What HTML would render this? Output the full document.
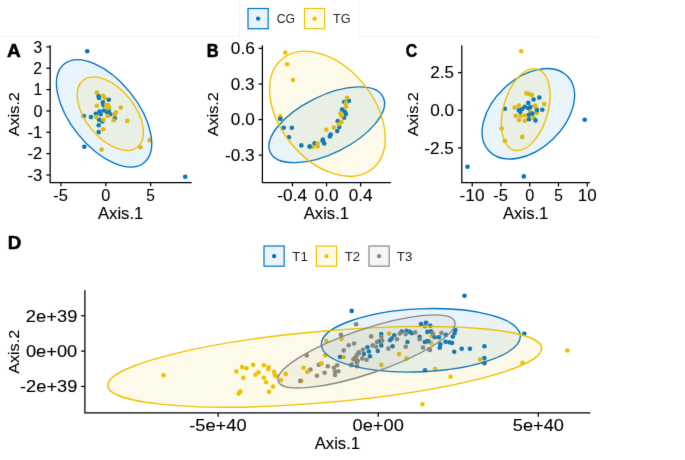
<!DOCTYPE html>
<html><head><meta charset="utf-8"><style>
html,body{margin:0;padding:0;background:#fff;}
svg{display:block;} #w{width:685px;height:460px;overflow:hidden;}
text{font-family:"Liberation Sans",sans-serif;stroke:#000;stroke-width:0.1px;}
</style></head><body>
<div id="w"><svg width="685" height="460" viewBox="0 0 685 460">
<defs><filter id="bl" x="0" y="0" width="685" height="460" filterUnits="userSpaceOnUse" color-interpolation-filters="sRGB"><feConvolveMatrix order="3" kernelMatrix="0.0072 0.085 0.0072 0.085 1 0.085 0.0072 0.085 0.0072" divisor="1.3688" edgeMode="duplicate" preserveAlpha="true"/></filter></defs>
<g filter="url(#bl)">
<rect width="685" height="460" fill="#fff"/>
<path d="M0 36.5H239.6M358.5 36.5H599M239.6 0V36.5M358.5 0V36.5" stroke="#f3f3f3" stroke-width="1" fill="none"/>
<text x="7.03" y="56.60" font-size="17.70" textLength="13.74" lengthAdjust="spacingAndGlyphs" font-weight="bold" fill="#000" style="stroke-width:0.5px">A</text>
<text x="206.83" y="56.70" font-size="17.70" textLength="11.87" lengthAdjust="spacingAndGlyphs" font-weight="bold" fill="#000" style="stroke-width:0.5px">B</text>
<text x="405.68" y="56.70" font-size="17.75" textLength="11.44" lengthAdjust="spacingAndGlyphs" font-weight="bold" fill="#000" style="stroke-width:0.5px">C</text>
<text x="7.72" y="249.30" font-size="17.70" textLength="13.49" lengthAdjust="spacingAndGlyphs" font-weight="bold" fill="#000" style="stroke-width:0.5px">D</text>
<circle cx="87.2" cy="51.3" r="2.3" fill="#0073C2"/><circle cx="185.2" cy="176.7" r="2.3" fill="#0073C2"/><circle cx="84.3" cy="146.7" r="2.3" fill="#0073C2"/><circle cx="98.5" cy="95.9" r="2.3" fill="#0073C2"/><circle cx="99" cy="98" r="2.3" fill="#0073C2"/><circle cx="108.8" cy="99.7" r="2.3" fill="#0073C2"/><circle cx="102.8" cy="102.4" r="2.3" fill="#0073C2"/><circle cx="103.4" cy="105.1" r="2.3" fill="#0073C2"/><circle cx="103.9" cy="110.5" r="2.3" fill="#0073C2"/><circle cx="108.8" cy="110.5" r="2.3" fill="#0073C2"/><circle cx="107.2" cy="112.7" r="2.3" fill="#0073C2"/><circle cx="110.4" cy="114.3" r="2.3" fill="#0073C2"/><circle cx="99.6" cy="111.6" r="2.3" fill="#0073C2"/><circle cx="95.8" cy="113.8" r="2.3" fill="#0073C2"/><circle cx="100.7" cy="114.3" r="2.3" fill="#0073C2"/><circle cx="90.9" cy="117.1" r="2.3" fill="#0073C2"/><circle cx="83.8" cy="116" r="2.3" fill="#0073C2"/><circle cx="99" cy="119.8" r="2.3" fill="#0073C2"/><circle cx="102.3" cy="121.4" r="2.3" fill="#0073C2"/><circle cx="114.8" cy="118.2" r="2.3" fill="#0073C2"/><circle cx="98.7" cy="125.2" r="2.3" fill="#0073C2"/><circle cx="98.7" cy="132.1" r="2.3" fill="#0073C2"/>
<circle cx="96.8" cy="92.6" r="2.3" fill="#EFC000"/><circle cx="103.4" cy="95.9" r="2.3" fill="#EFC000"/><circle cx="105" cy="98.6" r="2.3" fill="#EFC000"/><circle cx="96.8" cy="105.7" r="2.3" fill="#EFC000"/><circle cx="106.1" cy="105.1" r="2.3" fill="#EFC000"/><circle cx="109.3" cy="107.8" r="2.3" fill="#EFC000"/><circle cx="120.8" cy="107.6" r="2.3" fill="#EFC000"/><circle cx="115.9" cy="112.2" r="2.3" fill="#EFC000"/><circle cx="114.8" cy="114.3" r="2.3" fill="#EFC000"/><circle cx="107.7" cy="116" r="2.3" fill="#EFC000"/><circle cx="96.3" cy="117.1" r="2.3" fill="#EFC000"/><circle cx="103.4" cy="119.8" r="2.3" fill="#EFC000"/><circle cx="113.7" cy="120.3" r="2.3" fill="#EFC000"/><circle cx="127.3" cy="120.9" r="2.3" fill="#EFC000"/><circle cx="103.3" cy="129.2" r="2.3" fill="#EFC000"/><circle cx="149.6" cy="140.3" r="2.3" fill="#EFC000"/><circle cx="140.4" cy="147.2" r="2.3" fill="#EFC000"/><circle cx="101.6" cy="149.6" r="2.3" fill="#EFC000"/><circle cx="108.3" cy="105.3" r="2.3" fill="#EFC000"/><circle cx="107.3" cy="107.6" r="2.3" fill="#EFC000"/>
<ellipse cx="104.10" cy="113.40" rx="63.45" ry="33.37" transform="rotate(51.02 104.10 113.40)" fill="#0073C2" fill-opacity="0.085" stroke="#0073C2" stroke-width="1.35"/>
<ellipse cx="110.30" cy="113.70" rx="43.06" ry="24.39" transform="rotate(50.76 110.30 113.70)" fill="#EFC000" fill-opacity="0.085" stroke="#EFC000" stroke-width="1.35"/>
<path d="M50.15 45.2 V182.55 H191.7" fill="none" stroke="#000" stroke-width="1.25" stroke-linecap="butt"/>
<path d="M46.35 46.9H50.15" stroke="#000" stroke-width="1.25"/>
<text x="33.60" y="52.70" font-size="15.94" textLength="8.70" lengthAdjust="spacingAndGlyphs" fill="#000">3</text>
<path d="M46.35 68.25H50.15" stroke="#000" stroke-width="1.25"/>
<text x="33.36" y="74.05" font-size="15.94" textLength="8.73" lengthAdjust="spacingAndGlyphs" fill="#000">2</text>
<path d="M46.35 89.6H50.15" stroke="#000" stroke-width="1.25"/>
<text x="33.53" y="95.40" font-size="15.89" textLength="8.65" lengthAdjust="spacingAndGlyphs" fill="#000">1</text>
<path d="M46.35 110.95H50.15" stroke="#000" stroke-width="1.25"/>
<text x="33.40" y="116.75" font-size="15.94" textLength="9.06" lengthAdjust="spacingAndGlyphs" fill="#000">0</text>
<path d="M46.35 132.3H50.15" stroke="#000" stroke-width="1.25"/>
<text x="27.46" y="138.10" font-size="15.89" textLength="14.77" lengthAdjust="spacingAndGlyphs" fill="#000">-1</text>
<path d="M46.35 153.65H50.15" stroke="#000" stroke-width="1.25"/>
<text x="27.47" y="159.45" font-size="15.94" textLength="14.67" lengthAdjust="spacingAndGlyphs" fill="#000">-2</text>
<path d="M46.35 175.0H50.15" stroke="#000" stroke-width="1.25"/>
<text x="27.46" y="180.80" font-size="15.94" textLength="14.89" lengthAdjust="spacingAndGlyphs" fill="#000">-3</text>
<path d="M60.95 182.55V186.35000000000002" stroke="#000" stroke-width="1.25"/>
<text x="53.27" y="201.05" font-size="15.89" textLength="14.73" lengthAdjust="spacingAndGlyphs" fill="#000">-5</text>
<path d="M105.8 182.55V186.35000000000002" stroke="#000" stroke-width="1.25"/>
<text x="101.27" y="201.05" font-size="15.94" textLength="9.06" lengthAdjust="spacingAndGlyphs" fill="#000">0</text>
<path d="M150.65 182.55V186.35000000000002" stroke="#000" stroke-width="1.25"/>
<text x="146.31" y="201.05" font-size="15.89" textLength="8.55" lengthAdjust="spacingAndGlyphs" fill="#000">5</text>
<text x="97.99" y="218.75" font-size="15.94" textLength="45.36" lengthAdjust="spacingAndGlyphs" fill="#000">Axis.1</text>
<text x="-136.20" y="0" font-size="15.52" textLength="44.07" lengthAdjust="spacingAndGlyphs" fill="#000" transform="translate(18.60 0) rotate(-90)">Axis.2</text>
<circle cx="280.3" cy="118.7" r="2.3" fill="#0073C2"/><circle cx="283.7" cy="127.8" r="2.3" fill="#0073C2"/><circle cx="291.9" cy="127.8" r="2.3" fill="#0073C2"/><circle cx="288.9" cy="137.3" r="2.3" fill="#0073C2"/><circle cx="301.3" cy="145.4" r="2.3" fill="#0073C2"/><circle cx="309.7" cy="146.5" r="2.3" fill="#0073C2"/><circle cx="314.6" cy="143.2" r="2.3" fill="#0073C2"/><circle cx="322.5" cy="140.6" r="2.3" fill="#0073C2"/><circle cx="324.2" cy="143.4" r="2.3" fill="#0073C2"/><circle cx="348.9" cy="100.9" r="2.3" fill="#0073C2"/><circle cx="344.2" cy="102" r="2.3" fill="#0073C2"/><circle cx="342.1" cy="109.6" r="2.3" fill="#0073C2"/><circle cx="344.8" cy="111.7" r="2.3" fill="#0073C2"/><circle cx="345.9" cy="113.9" r="2.3" fill="#0073C2"/><circle cx="344.2" cy="117.7" r="2.3" fill="#0073C2"/><circle cx="337.7" cy="121" r="2.3" fill="#0073C2"/><circle cx="339.3" cy="127" r="2.3" fill="#0073C2"/><circle cx="337.2" cy="131.1" r="2.3" fill="#0073C2"/><circle cx="330.7" cy="134.6" r="2.3" fill="#0073C2"/><circle cx="323" cy="139.5" r="2.3" fill="#0073C2"/><circle cx="329.8" cy="136.5" r="2.3" fill="#0073C2"/>
<circle cx="285.3" cy="52.6" r="2.3" fill="#EFC000"/><circle cx="287.1" cy="64.3" r="2.3" fill="#EFC000"/><circle cx="292.9" cy="80" r="2.3" fill="#EFC000"/><circle cx="280.4" cy="116.4" r="2.3" fill="#EFC000"/><circle cx="312.7" cy="147" r="2.3" fill="#EFC000"/><circle cx="317.6" cy="143.5" r="2.3" fill="#EFC000"/><circle cx="317.6" cy="146.5" r="2.3" fill="#EFC000"/><circle cx="326.3" cy="129.8" r="2.3" fill="#EFC000"/><circle cx="347" cy="97.8" r="2.3" fill="#EFC000"/><circle cx="345.9" cy="103" r="2.3" fill="#EFC000"/><circle cx="345.9" cy="106.8" r="2.3" fill="#EFC000"/><circle cx="340.4" cy="113.4" r="2.3" fill="#EFC000"/><circle cx="341.5" cy="116.1" r="2.3" fill="#EFC000"/><circle cx="341.5" cy="122" r="2.3" fill="#EFC000"/><circle cx="338.8" cy="124.2" r="2.3" fill="#EFC000"/><circle cx="333.9" cy="127.5" r="2.3" fill="#EFC000"/>
<circle cx="280.3" cy="118.7" r="2.3" fill="#0073C2"/><circle cx="309.7" cy="146.5" r="2.3" fill="#0073C2"/>
<ellipse cx="326.75" cy="124.80" rx="62.83" ry="28.69" transform="rotate(153.71 326.75 124.80)" fill="#0073C2" fill-opacity="0.085" stroke="#0073C2" stroke-width="1.35"/>
<ellipse cx="327.40" cy="113.80" rx="71.11" ry="46.80" transform="rotate(50.69 327.40 113.80)" fill="#EFC000" fill-opacity="0.085" stroke="#EFC000" stroke-width="1.35"/>
<path d="M262.4 45.2 V182.6 H390.9" fill="none" stroke="#000" stroke-width="1.25" stroke-linecap="butt"/>
<path d="M258.59999999999997 48.39H262.4" stroke="#000" stroke-width="1.25"/>
<text x="230.87" y="54.19" font-size="15.94" textLength="24.01" lengthAdjust="spacingAndGlyphs" fill="#000">0.6</text>
<path d="M258.59999999999997 83.97H262.4" stroke="#000" stroke-width="1.25"/>
<text x="230.88" y="89.77" font-size="15.94" textLength="23.73" lengthAdjust="spacingAndGlyphs" fill="#000">0.3</text>
<path d="M258.59999999999997 119.55H262.4" stroke="#000" stroke-width="1.25"/>
<text x="230.88" y="125.35" font-size="15.94" textLength="23.87" lengthAdjust="spacingAndGlyphs" fill="#000">0.0</text>
<path d="M258.59999999999997 155.13H262.4" stroke="#000" stroke-width="1.25"/>
<text x="224.94" y="160.93" font-size="15.94" textLength="29.68" lengthAdjust="spacingAndGlyphs" fill="#000">-0.3</text>
<path d="M292.43 182.6V186.4" stroke="#000" stroke-width="1.25"/>
<text x="277.34" y="201.10" font-size="15.94" textLength="29.80" lengthAdjust="spacingAndGlyphs" fill="#000">-0.4</text>
<path d="M326.55 182.6V186.4" stroke="#000" stroke-width="1.25"/>
<text x="314.61" y="201.10" font-size="15.94" textLength="23.87" lengthAdjust="spacingAndGlyphs" fill="#000">0.0</text>
<path d="M360.67 182.6V186.4" stroke="#000" stroke-width="1.25"/>
<text x="348.73" y="201.10" font-size="15.94" textLength="23.86" lengthAdjust="spacingAndGlyphs" fill="#000">0.4</text>
<text x="303.72" y="218.80" font-size="15.94" textLength="45.36" lengthAdjust="spacingAndGlyphs" fill="#000">Axis.1</text>
<text x="-136.23" y="0" font-size="15.52" textLength="44.07" lengthAdjust="spacingAndGlyphs" fill="#000" transform="translate(218.10 0) rotate(-90)">Axis.2</text>
<circle cx="521.2" cy="51.3" r="2.3" fill="#EFC000"/><circle cx="526.4" cy="93.4" r="2.3" fill="#EFC000"/><circle cx="528.4" cy="93.8" r="2.3" fill="#EFC000"/><circle cx="531.7" cy="94.9" r="2.3" fill="#EFC000"/><circle cx="544.2" cy="104.1" r="2.3" fill="#EFC000"/><circle cx="514.6" cy="107.5" r="2.3" fill="#EFC000"/><circle cx="518.8" cy="105.6" r="2.3" fill="#EFC000"/><circle cx="535.1" cy="105.6" r="2.3" fill="#EFC000"/><circle cx="536.3" cy="108.5" r="2.3" fill="#EFC000"/><circle cx="537" cy="112.8" r="2.3" fill="#EFC000"/><circle cx="515.7" cy="115.9" r="2.3" fill="#EFC000"/><circle cx="520.7" cy="115.9" r="2.3" fill="#EFC000"/><circle cx="525.2" cy="115.5" r="2.3" fill="#EFC000"/><circle cx="519.1" cy="120.1" r="2.3" fill="#EFC000"/><circle cx="524.8" cy="120.8" r="2.3" fill="#EFC000"/><circle cx="533.6" cy="117.8" r="2.3" fill="#EFC000"/><circle cx="530.2" cy="112.1" r="2.3" fill="#EFC000"/><circle cx="501.6" cy="128.5" r="2.3" fill="#EFC000"/><circle cx="504.8" cy="140.9" r="2.3" fill="#EFC000"/><circle cx="522.2" cy="136.9" r="2.3" fill="#EFC000"/>
<circle cx="467.5" cy="166.8" r="2.3" fill="#0073C2"/><circle cx="523.8" cy="176.4" r="2.3" fill="#0073C2"/><circle cx="584.7" cy="119.7" r="2.3" fill="#0073C2"/><circle cx="504.9" cy="108.7" r="2.3" fill="#0073C2"/><circle cx="539.3" cy="97.6" r="2.3" fill="#0073C2"/><circle cx="533.6" cy="99.5" r="2.3" fill="#0073C2"/><circle cx="528.3" cy="102.9" r="2.3" fill="#0073C2"/><circle cx="524.8" cy="106.7" r="2.3" fill="#0073C2"/><circle cx="528.3" cy="108.3" r="2.3" fill="#0073C2"/><circle cx="530.5" cy="107.1" r="2.3" fill="#0073C2"/><circle cx="518.8" cy="110.2" r="2.3" fill="#0073C2"/><circle cx="520.3" cy="112.1" r="2.3" fill="#0073C2"/><circle cx="522.2" cy="109" r="2.3" fill="#0073C2"/><circle cx="537" cy="110.2" r="2.3" fill="#0073C2"/><circle cx="542.3" cy="109.8" r="2.3" fill="#0073C2"/><circle cx="532.5" cy="113.6" r="2.3" fill="#0073C2"/><circle cx="529" cy="114.7" r="2.3" fill="#0073C2"/><circle cx="529" cy="119.3" r="2.3" fill="#0073C2"/><circle cx="535.5" cy="120.4" r="2.3" fill="#0073C2"/>
<ellipse cx="528.35" cy="113.80" rx="54.22" ry="35.25" transform="rotate(136.62 528.35 113.80)" fill="#0073C2" fill-opacity="0.085" stroke="#0073C2" stroke-width="1.35"/>
<ellipse cx="525.70" cy="109.60" rx="42.20" ry="22.20" transform="rotate(106.19 525.70 109.60)" fill="#EFC000" fill-opacity="0.085" stroke="#EFC000" stroke-width="1.35"/>
<path d="M461.8 45.3 V182.7 H590.1" fill="none" stroke="#000" stroke-width="1.25" stroke-linecap="butt"/>
<path d="M458.0 72.67H461.8" stroke="#000" stroke-width="1.25"/>
<text x="430.21" y="78.47" font-size="15.94" textLength="23.66" lengthAdjust="spacingAndGlyphs" fill="#000">2.5</text>
<path d="M458.0 110.27H461.8" stroke="#000" stroke-width="1.25"/>
<text x="430.28" y="116.07" font-size="15.94" textLength="23.87" lengthAdjust="spacingAndGlyphs" fill="#000">0.0</text>
<path d="M458.0 147.87H461.8" stroke="#000" stroke-width="1.25"/>
<text x="424.35" y="153.67" font-size="15.94" textLength="29.52" lengthAdjust="spacingAndGlyphs" fill="#000">-2.5</text>
<path d="M472.23 182.7V186.5" stroke="#000" stroke-width="1.25"/>
<text x="459.60" y="201.20" font-size="15.94" textLength="24.89" lengthAdjust="spacingAndGlyphs" fill="#000">-10</text>
<path d="M500.98 182.7V186.5" stroke="#000" stroke-width="1.25"/>
<text x="493.30" y="201.20" font-size="15.89" textLength="14.73" lengthAdjust="spacingAndGlyphs" fill="#000">-5</text>
<path d="M529.73 182.7V186.5" stroke="#000" stroke-width="1.25"/>
<text x="525.20" y="201.20" font-size="15.94" textLength="9.06" lengthAdjust="spacingAndGlyphs" fill="#000">0</text>
<path d="M558.48 182.7V186.5" stroke="#000" stroke-width="1.25"/>
<text x="554.14" y="201.20" font-size="15.89" textLength="8.55" lengthAdjust="spacingAndGlyphs" fill="#000">5</text>
<path d="M587.23 182.7V186.5" stroke="#000" stroke-width="1.25"/>
<text x="577.80" y="201.20" font-size="15.94" textLength="18.89" lengthAdjust="spacingAndGlyphs" fill="#000">10</text>
<text x="503.02" y="218.90" font-size="15.94" textLength="45.36" lengthAdjust="spacingAndGlyphs" fill="#000">Axis.1</text>
<text x="-136.33" y="0" font-size="15.52" textLength="44.07" lengthAdjust="spacingAndGlyphs" fill="#000" transform="translate(417.60 0) rotate(-90)">Axis.2</text>
<circle cx="163.5" cy="375.2" r="2.3" fill="#EFC000"/><circle cx="567.4" cy="350.5" r="2.3" fill="#EFC000"/><circle cx="522.5" cy="362.8" r="2.3" fill="#EFC000"/><circle cx="450.6" cy="376.7" r="2.3" fill="#EFC000"/><circle cx="422.4" cy="404.2" r="2.3" fill="#EFC000"/><circle cx="435.2" cy="369.2" r="2.3" fill="#EFC000"/><circle cx="480.2" cy="359.4" r="2.3" fill="#EFC000"/><circle cx="326.3" cy="340.9" r="2.3" fill="#EFC000"/><circle cx="341.5" cy="339.1" r="2.3" fill="#EFC000"/><circle cx="325.2" cy="355.4" r="2.3" fill="#EFC000"/><circle cx="343.7" cy="357" r="2.3" fill="#EFC000"/><circle cx="321.3" cy="363.5" r="2.3" fill="#EFC000"/><circle cx="303.5" cy="367.8" r="2.3" fill="#EFC000"/><circle cx="307.4" cy="371.7" r="2.3" fill="#EFC000"/><circle cx="285.7" cy="373.9" r="2.3" fill="#EFC000"/><circle cx="281.1" cy="380" r="2.3" fill="#EFC000"/><circle cx="301.3" cy="380.9" r="2.3" fill="#EFC000"/><circle cx="263.9" cy="365.2" r="2.3" fill="#EFC000"/><circle cx="268.7" cy="367.4" r="2.3" fill="#EFC000"/><circle cx="268.3" cy="369.1" r="2.3" fill="#EFC000"/><circle cx="274.1" cy="371.7" r="2.3" fill="#EFC000"/><circle cx="276.3" cy="376.1" r="2.3" fill="#EFC000"/><circle cx="263.9" cy="377.8" r="2.3" fill="#EFC000"/><circle cx="266.1" cy="382.2" r="2.3" fill="#EFC000"/><circle cx="273" cy="386.5" r="2.3" fill="#EFC000"/><circle cx="269.1" cy="391.7" r="2.3" fill="#EFC000"/><circle cx="274.8" cy="375" r="2.3" fill="#EFC000"/><circle cx="236.4" cy="371.5" r="2.3" fill="#EFC000"/><circle cx="242.1" cy="367" r="2.3" fill="#EFC000"/><circle cx="246.6" cy="368.2" r="2.3" fill="#EFC000"/><circle cx="243.3" cy="377.8" r="2.3" fill="#EFC000"/><circle cx="253.2" cy="364.8" r="2.3" fill="#EFC000"/><circle cx="258.5" cy="372.4" r="2.3" fill="#EFC000"/><circle cx="255.5" cy="374.7" r="2.3" fill="#EFC000"/><circle cx="240.3" cy="391.5" r="2.3" fill="#EFC000"/><circle cx="238.7" cy="393.6" r="2.3" fill="#EFC000"/><circle cx="389.1" cy="333.6" r="2.3" fill="#EFC000"/><circle cx="399" cy="354.1" r="2.3" fill="#EFC000"/><circle cx="406.5" cy="358.5" r="2.3" fill="#EFC000"/><circle cx="381.3" cy="364.9" r="2.3" fill="#EFC000"/><circle cx="431.1" cy="343" r="2.3" fill="#EFC000"/><circle cx="435.1" cy="369.1" r="2.3" fill="#EFC000"/><circle cx="431.7" cy="336" r="2.3" fill="#EFC000"/>
<circle cx="351.7" cy="310.9" r="2.3" fill="#0073C2"/><circle cx="340" cy="357" r="2.3" fill="#0073C2"/><circle cx="464.5" cy="295.8" r="2.3" fill="#0073C2"/><circle cx="524.3" cy="333.7" r="2.3" fill="#0073C2"/><circle cx="425" cy="370.3" r="2.3" fill="#0073C2"/><circle cx="484.4" cy="358.1" r="2.3" fill="#0073C2"/><circle cx="484.4" cy="363.2" r="2.3" fill="#0073C2"/><circle cx="484.4" cy="346.2" r="2.3" fill="#0073C2"/><circle cx="469.9" cy="348.8" r="2.3" fill="#0073C2"/><circle cx="461.7" cy="348.8" r="2.3" fill="#0073C2"/><circle cx="454.2" cy="351.7" r="2.3" fill="#0073C2"/><circle cx="421" cy="324" r="2.3" fill="#0073C2"/><circle cx="426" cy="322.8" r="2.3" fill="#0073C2"/><circle cx="381.3" cy="334.1" r="2.3" fill="#0073C2"/><circle cx="394.3" cy="335.3" r="2.3" fill="#0073C2"/><circle cx="391.7" cy="338.5" r="2.3" fill="#0073C2"/><circle cx="390" cy="340.2" r="2.3" fill="#0073C2"/><circle cx="401.7" cy="331.5" r="2.3" fill="#0073C2"/><circle cx="406.5" cy="330.7" r="2.3" fill="#0073C2"/><circle cx="410" cy="331.9" r="2.3" fill="#0073C2"/><circle cx="411.7" cy="333.3" r="2.3" fill="#0073C2"/><circle cx="419.6" cy="336.7" r="2.3" fill="#0073C2"/><circle cx="424.8" cy="342" r="2.3" fill="#0073C2"/><circle cx="427.4" cy="331.9" r="2.3" fill="#0073C2"/><circle cx="427.4" cy="341.1" r="2.3" fill="#0073C2"/><circle cx="407.4" cy="342" r="2.3" fill="#0073C2"/><circle cx="392.6" cy="346.3" r="2.3" fill="#0073C2"/><circle cx="381.3" cy="345.4" r="2.3" fill="#0073C2"/><circle cx="367.4" cy="347.2" r="2.3" fill="#0073C2"/><circle cx="368.8" cy="351.5" r="2.3" fill="#0073C2"/><circle cx="377.8" cy="351" r="2.3" fill="#0073C2"/><circle cx="363.9" cy="354.1" r="2.3" fill="#0073C2"/><circle cx="370" cy="356.2" r="2.3" fill="#0073C2"/><circle cx="430.2" cy="325.7" r="2.3" fill="#0073C2"/><circle cx="431.1" cy="331.4" r="2.3" fill="#0073C2"/><circle cx="434.6" cy="337.3" r="2.3" fill="#0073C2"/><circle cx="438.9" cy="337.3" r="2.3" fill="#0073C2"/><circle cx="428.5" cy="341.3" r="2.3" fill="#0073C2"/><circle cx="455.4" cy="330" r="2.3" fill="#0073C2"/><circle cx="454.6" cy="333.1" r="2.3" fill="#0073C2"/><circle cx="452.8" cy="336.6" r="2.3" fill="#0073C2"/><circle cx="445.9" cy="334.9" r="2.3" fill="#0073C2"/><circle cx="445.5" cy="341.8" r="2.3" fill="#0073C2"/><circle cx="449.3" cy="342.2" r="2.3" fill="#0073C2"/><circle cx="452" cy="343" r="2.3" fill="#0073C2"/><circle cx="440.3" cy="344.3" r="2.3" fill="#0073C2"/><circle cx="439.8" cy="347.7" r="2.3" fill="#0073C2"/><circle cx="379" cy="341.3" r="2.3" fill="#0073C2"/>
<circle cx="356.1" cy="324.3" r="2.3" fill="#868686"/><circle cx="340.9" cy="334.8" r="2.3" fill="#868686"/><circle cx="348.7" cy="345.2" r="2.3" fill="#868686"/><circle cx="354.1" cy="343.5" r="2.3" fill="#868686"/><circle cx="343.7" cy="350.4" r="2.3" fill="#868686"/><circle cx="306.7" cy="355.4" r="2.3" fill="#868686"/><circle cx="310.4" cy="369.6" r="2.3" fill="#868686"/><circle cx="318.7" cy="364.8" r="2.3" fill="#868686"/><circle cx="327.8" cy="366.3" r="2.3" fill="#868686"/><circle cx="324.6" cy="372.8" r="2.3" fill="#868686"/><circle cx="317" cy="375.7" r="2.3" fill="#868686"/><circle cx="333.9" cy="367.8" r="2.3" fill="#868686"/><circle cx="335" cy="371.7" r="2.3" fill="#868686"/><circle cx="338.3" cy="371.3" r="2.3" fill="#868686"/><circle cx="335" cy="375" r="2.3" fill="#868686"/><circle cx="337.2" cy="365.2" r="2.3" fill="#868686"/><circle cx="300.2" cy="380.9" r="2.3" fill="#868686"/><circle cx="355.7" cy="358.3" r="2.3" fill="#868686"/><circle cx="351.3" cy="365.2" r="2.3" fill="#868686"/><circle cx="356.7" cy="362" r="2.3" fill="#868686"/><circle cx="358.9" cy="353.3" r="2.3" fill="#868686"/><circle cx="371.2" cy="336.4" r="2.3" fill="#868686"/><circle cx="381.3" cy="336.7" r="2.3" fill="#868686"/><circle cx="382.2" cy="340.6" r="2.3" fill="#868686"/><circle cx="377" cy="342" r="2.3" fill="#868686"/><circle cx="372.6" cy="345.4" r="2.3" fill="#868686"/><circle cx="376.1" cy="346.8" r="2.3" fill="#868686"/><circle cx="397" cy="339.3" r="2.3" fill="#868686"/><circle cx="399.9" cy="333.6" r="2.3" fill="#868686"/><circle cx="405.7" cy="334.1" r="2.3" fill="#868686"/><circle cx="415.2" cy="332.4" r="2.3" fill="#868686"/><circle cx="419.6" cy="339.3" r="2.3" fill="#868686"/><circle cx="424.8" cy="326.3" r="2.3" fill="#868686"/><circle cx="405.7" cy="346.8" r="2.3" fill="#868686"/><circle cx="388.3" cy="348.6" r="2.3" fill="#868686"/><circle cx="423" cy="347.5" r="2.3" fill="#868686"/><circle cx="429.1" cy="349.3" r="2.3" fill="#868686"/><circle cx="363" cy="349.8" r="2.3" fill="#868686"/><circle cx="358.7" cy="352.4" r="2.3" fill="#868686"/><circle cx="357" cy="355" r="2.3" fill="#868686"/><circle cx="355.2" cy="357.6" r="2.3" fill="#868686"/><circle cx="353.5" cy="359.3" r="2.3" fill="#868686"/><circle cx="357.8" cy="361.1" r="2.3" fill="#868686"/><circle cx="362.2" cy="358.5" r="2.3" fill="#868686"/><circle cx="366.5" cy="359.7" r="2.3" fill="#868686"/><circle cx="351.7" cy="364.6" r="2.3" fill="#868686"/><circle cx="357" cy="366.3" r="2.3" fill="#868686"/><circle cx="432.8" cy="333.5" r="2.3" fill="#868686"/><circle cx="441.5" cy="333.1" r="2.3" fill="#868686"/><circle cx="429.9" cy="350" r="2.3" fill="#868686"/>
<circle cx="321.3" cy="363.5" r="2.3" fill="#EFC000"/><circle cx="307.4" cy="371.7" r="2.3" fill="#EFC000"/>
<ellipse cx="420.85" cy="340.30" rx="99.59" ry="31.46" transform="rotate(177.42 420.85 340.30)" fill="#0073C2" fill-opacity="0.085" stroke="#0073C2" stroke-width="1.35"/>
<ellipse cx="324.70" cy="366.80" rx="217.80" ry="35.71" transform="rotate(175.01 324.70 366.80)" fill="#EFC000" fill-opacity="0.085" stroke="#EFC000" stroke-width="1.35"/>
<ellipse cx="366.48" cy="351.41" rx="93.16" ry="22.26" transform="rotate(161.31 366.48 351.41)" fill="#868686" fill-opacity="0.085" stroke="#868686" stroke-width="1.35"/>
<path d="M84.9 290.2 V412.9 H590.4" fill="none" stroke="#000" stroke-width="1.25" stroke-linecap="butt"/>
<path d="M81.10000000000001 315.75H84.9" stroke="#000" stroke-width="1.25"/>
<text x="25.87" y="321.55" font-size="15.94" textLength="51.51" lengthAdjust="spacingAndGlyphs" fill="#000">2e+39</text>
<path d="M81.10000000000001 351.1H84.9" stroke="#000" stroke-width="1.25"/>
<text x="25.96" y="356.90" font-size="15.94" textLength="51.32" lengthAdjust="spacingAndGlyphs" fill="#000">0e+00</text>
<path d="M81.10000000000001 386.45H84.9" stroke="#000" stroke-width="1.25"/>
<text x="20.03" y="392.25" font-size="15.94" textLength="57.35" lengthAdjust="spacingAndGlyphs" fill="#000">-2e+39</text>
<path d="M218.1 412.9V416.7" stroke="#000" stroke-width="1.25"/>
<text x="189.29" y="431.40" font-size="15.94" textLength="57.26" lengthAdjust="spacingAndGlyphs" fill="#000">-5e+40</text>
<path d="M378.2 412.9V416.7" stroke="#000" stroke-width="1.25"/>
<text x="352.53" y="431.40" font-size="15.94" textLength="51.32" lengthAdjust="spacingAndGlyphs" fill="#000">0e+00</text>
<path d="M538.3 412.9V416.7" stroke="#000" stroke-width="1.25"/>
<text x="512.79" y="431.40" font-size="15.94" textLength="51.16" lengthAdjust="spacingAndGlyphs" fill="#000">5e+40</text>
<text x="314.72" y="449.10" font-size="15.94" textLength="45.36" lengthAdjust="spacingAndGlyphs" fill="#000">Axis.1</text>
<text x="-373.88" y="0" font-size="15.52" textLength="44.07" lengthAdjust="spacingAndGlyphs" fill="#000" transform="translate(18.60 0) rotate(-90)">Axis.2</text>
<rect x="248" y="8.5" width="20.2" height="20.2" fill="#0073C2" fill-opacity="0.085" stroke="#0073C2" stroke-width="1.2"/>
<circle cx="258.1" cy="18.6" r="2.2" fill="#0073C2"/>
<text x="276.69" y="22.80" font-size="13.29" textLength="18.21" lengthAdjust="spacingAndGlyphs" fill="#222" style="stroke:none">CG</text>
<rect x="304.5" y="8.5" width="20.2" height="20.2" fill="#EFC000" fill-opacity="0.085" stroke="#EFC000" stroke-width="1.2"/>
<circle cx="314.6" cy="18.6" r="2.2" fill="#EFC000"/>
<text x="332.98" y="22.80" font-size="13.29" textLength="17.56" lengthAdjust="spacingAndGlyphs" fill="#222" style="stroke:none">TG</text>
<rect x="264" y="246" width="20.2" height="20.2" fill="#0073C2" fill-opacity="0.085" stroke="#0073C2" stroke-width="1.2"/>
<circle cx="274.1" cy="256.1" r="2.2" fill="#0073C2"/>
<text x="292.37" y="261.00" font-size="13.25" textLength="15.41" lengthAdjust="spacingAndGlyphs" fill="#222" style="stroke:none">T1</text>
<rect x="316.4" y="246" width="20.2" height="20.2" fill="#EFC000" fill-opacity="0.085" stroke="#EFC000" stroke-width="1.2"/>
<circle cx="326.5" cy="256.1" r="2.2" fill="#EFC000"/>
<text x="344.67" y="261.00" font-size="13.29" textLength="15.33" lengthAdjust="spacingAndGlyphs" fill="#222" style="stroke:none">T2</text>
<rect x="369" y="246" width="20.2" height="20.2" fill="#868686" fill-opacity="0.085" stroke="#868686" stroke-width="1.2"/>
<circle cx="379.1" cy="256.1" r="2.2" fill="#868686"/>
<text x="396.86" y="261.00" font-size="13.29" textLength="15.51" lengthAdjust="spacingAndGlyphs" fill="#222" style="stroke:none">T3</text>
</g>
</svg></div></body></html>
